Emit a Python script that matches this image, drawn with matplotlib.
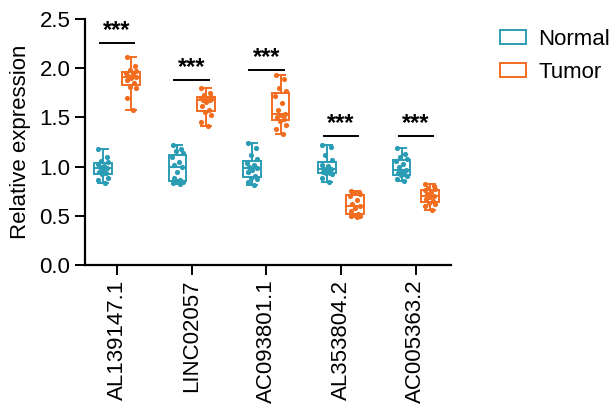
import numpy as np
import matplotlib
matplotlib.use("Agg")
import matplotlib.pyplot as plt
from matplotlib.patches import Patch

plt.rcParams['font.family'] = ['Liberation Sans', 'DejaVu Sans']

genes = ["AL139147.1", "LINC02057", "AC093801.1", "AL353804.2", "AC005363.2"]

normal_al139147 = [1.18, 1.10, 1.06, 1.05, 1.03, 1.01, 1.00, 0.99, 0.97, 0.95, 0.93, 0.92, 0.88, 0.86, 0.83]
tumor_al139147 = [2.11, 2.02, 1.98, 1.97, 1.95, 1.94, 1.92, 1.91, 1.90, 1.88, 1.85, 1.81, 1.80, 1.70, 1.58]
normal_linc02057 = [1.22, 1.18, 1.16, 1.14, 1.10, 1.05, 1.02, 1.00, 0.95, 0.88, 0.86, 0.85, 0.84, 0.83, 0.82]
tumor_linc02057 = [1.80, 1.75, 1.73, 1.71, 1.70, 1.69, 1.68, 1.68, 1.66, 1.62, 1.58, 1.55, 1.52, 1.45, 1.41]
normal_ac093801 = [1.24, 1.19, 1.12, 1.08, 1.04, 1.02, 1.00, 0.99, 0.97, 0.95, 0.90, 0.88, 0.87, 0.84, 0.81]
tumor_ac093801 = [1.93, 1.89, 1.80, 1.77, 1.72, 1.65, 1.58, 1.53, 1.52, 1.50, 1.48, 1.46, 1.42, 1.38, 1.33]
normal_al353804 = [1.22, 1.20, 1.12, 1.07, 1.02, 1.01, 0.98, 0.98, 0.96, 0.95, 0.94, 0.93, 0.92, 0.88, 0.84]
tumor_al353804 = [0.75, 0.74, 0.73, 0.72, 0.70, 0.66, 0.62, 0.60, 0.58, 0.55, 0.52, 0.51, 0.50, 0.50, 0.49]
normal_ac005363 = [1.19, 1.13, 1.10, 1.08, 1.06, 1.03, 1.00, 0.97, 0.96, 0.94, 0.92, 0.91, 0.90, 0.87, 0.85]
tumor_ac005363 = [0.82, 0.80, 0.78, 0.77, 0.76, 0.74, 0.72, 0.70, 0.69, 0.67, 0.65, 0.63, 0.62, 0.60, 0.56]

normal_data = [normal_al139147, normal_linc02057, normal_ac093801, normal_al353804, normal_ac005363]
tumor_data = [tumor_al139147, tumor_linc02057, tumor_ac093801, tumor_al353804, tumor_ac005363]

sig_labels = ["***", "***", "***", "***", "***"]
sig_heights = [2.26, 1.88, 1.98, 1.31, 1.31]

c_normal = "#2a9cb4"
c_tumor = "#f36d20"

fig = plt.figure(figsize=(6.15, 4.04), dpi=100)
ax = fig.add_axes([0.138, 0.344, 0.595, 0.609])

x = np.arange(len(genes))
off = 0.19
bw = 0.24
jit = np.array([-0.06, 0.05, -0.02, 0.07, -0.07, 0.02, -0.04, 0.06, 0.0, -0.05, 0.04, -0.01, 0.07, -0.06, 0.03])

def draw(data, pos, color):
    ax.boxplot(data, positions=pos, widths=bw, whis=(0, 100), showfliers=False,
               patch_artist=True, manage_ticks=False,
               boxprops=dict(facecolor="none", edgecolor=color, linewidth=1.4),
               medianprops=dict(color=color, linewidth=1.4),
               whiskerprops=dict(color=color, linewidth=1.4),
               capprops=dict(color=color, linewidth=1.4),
               capwidths=bw * 0.55)
    for d, p in zip(data, pos):
        ax.scatter(p + jit[:len(d)], d, s=14, color=color, zorder=3, linewidths=0)

draw(normal_data, x - off, c_normal)
draw(tumor_data, x + off, c_tumor)

for i, (lab, h) in enumerate(zip(sig_labels, sig_heights)):
    ax.plot([x[i] - off - 0.04, x[i] + off + 0.04], [h, h], color="black", lw=1.4)
    ax.text(x[i], h + 0.01, lab, ha="center", va="bottom", fontsize=17, fontweight="bold")

ax.set_ylim(0, 2.5)
ax.set_xlim(-0.43, 4.47)
ax.set_yticks([0, 0.5, 1.0, 1.5, 2.0, 2.5])
ax.set_yticklabels(["0.0", "0.5", "1.0", "1.5", "2.0", "2.5"])
ax.set_xticks(x)
ax.set_xticklabels(genes, rotation=90)
ax.set_ylabel("Relative expression", fontsize=16, labelpad=6)
ax.tick_params(axis="both", labelsize=16, width=1.4, length=7)
for s in ["top", "right"]:
    ax.spines[s].set_visible(False)
for s in ["left", "bottom"]:
    ax.spines[s].set_linewidth(1.6)

handles = [Patch(facecolor="none", edgecolor=c_normal, linewidth=1.4, label="Normal"),
           Patch(facecolor="none", edgecolor=c_tumor, linewidth=1.4, label="Tumor")]
fig.legend(handles=handles, loc="upper left", bbox_to_anchor=(0.805, 0.94), frameon=False,
           fontsize=16, handlelength=1.2, handleheight=0.55, handletextpad=0.55,
           labelspacing=0.55, borderpad=0.2, borderaxespad=0)

fig.savefig("out.png", dpi=100)
